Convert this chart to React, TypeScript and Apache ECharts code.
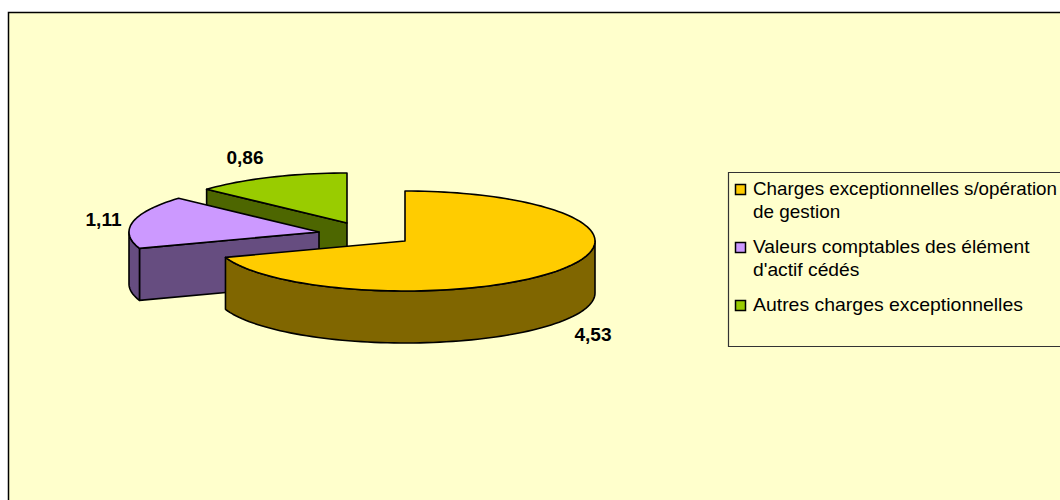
import React, { useEffect, useRef } from "react";
import * as echarts from "echarts";

const categories = ["Charges exceptionnelles s/opération", "Valeurs comptables des élément", "Autres charges exceptionnelles"];
const values = [4.53, 1.11, 0.86];

const legendLines = [
  ["Charges exceptionnelles s/opération", "de gestion"],
  ["Valeurs comptables des élément", "d'actif cédés"],
  ["Autres charges exceptionnelles"],
];
const legendStretch = [[1.045, 1.05], [1.065, 1.07], [1.08]];
const topColors = ["#FFCC00", "#CC99FF", "#99CC00"];
const sideColors = ["#806600", "#664D80", "#4D6600"];

// layout, separate from the data
const apexes = [[405, 241], [319, 232], [347, 223]];
const labelPos = [[593, 335], [103.5, 220], [245, 158]];
const RX = 190, RY = 50, DEPTH = 52;
const total = values.reduce((a, b) => a + b, 0);
const FONT = "'Liberation Sans', Arial, sans-serif";
const fmt = (v: number) => v.toFixed(2).replace(".", ",");

function point(i: number, deg: number, dy = 0) {
  const r = (deg * Math.PI) / 180;
  return [apexes[i][0] + RX * Math.sin(r), apexes[i][1] - RY * Math.cos(r) + dy];
}
function arc(i: number, a: number, b: number, dy = 0) {
  const n = Math.max(2, Math.ceil(Math.abs(b - a) / 2));
  const pts: number[][] = [];
  for (let k = 0; k <= n; k++) pts.push(point(i, a + ((b - a) * k) / n, dy));
  return pts;
}
const edge = { stroke: "#000", lineWidth: 1.6, lineJoin: "round" as const };

function renderItem(params: any, api: any) {
  const i = api.value(0);
  const before = values.slice(0, i).reduce((a, b) => a + b, 0);
  const a0 = (before / total) * 360;
  const a1 = ((before + api.value(1)) / total) * 360;
  const [ax, ay] = apexes[i];
  const children: any[] = [];
  const side = { ...edge, fill: sideColors[i] };
  // flat cut face on the starting radius, when it faces the viewer
  if (a0 > 90) {
    const p = point(i, a0);
    children.push({
      type: "polygon",
      shape: { points: [[ax, ay], p, [p[0], p[1] + DEPTH], [ax, ay + DEPTH]] },
      style: side,
    });
  }
  // curved rim: only the part in front (90 to 270 degrees)
  const f0 = Math.max(a0, 90), f1 = Math.min(a1, 270);
  if (f1 > f0) {
    children.push({
      type: "polygon",
      shape: { points: [...arc(i, f0, f1), ...arc(i, f1, f0, DEPTH)] },
      style: side,
    });
  }
  // top face
  children.push({
    type: "polygon",
    shape: { points: [[ax, ay], ...arc(i, a0, a1)] },
    style: { ...edge, fill: topColors[i] },
  });
  children.push({
    type: "text",
    x: labelPos[i][0],
    y: labelPos[i][1],
    scaleX: 1.06,
    style: { text: fmt(api.value(1)), font: `bold 18px ${FONT}`, fill: "#000", align: "center", verticalAlign: "middle" },
  });
  return { type: "group", children };
}

const legendTop = [189, 247, 305];
const LINE = 23;

export default function App() {
  const ref = useRef<HTMLDivElement>(null);
  useEffect(() => {
    const chart = echarts.init(ref.current!, undefined, { renderer: "svg" });
    const legendEls: any[] = [
      { type: "rect", shape: { x: 8.5, y: 12.5, width: 1100, height: 520 }, style: { fill: "#FFFFCC", stroke: "#000", lineWidth: 1.5 }, z: 0 },
      { type: "rect", shape: { x: 728.5, y: 172.5, width: 400, height: 174 }, style: { fill: "#FFFFCC", stroke: "#333", lineWidth: 1.2 }, z: 1 },
    ];
    legendLines.forEach((lines, i) => {
      legendEls.push({
        type: "rect",
        shape: { x: 735.5, y: legendTop[i] - 4.5, width: 10, height: 10 },
        style: { fill: topColors[i], stroke: "#000", lineWidth: 1.5 },
        z: 2,
      });
      lines.forEach((t, k) => {
        legendEls.push({
          type: "text",
          x: 753,
          y: legendTop[i] + k * LINE,
          scaleX: legendStretch[i][k],
          style: { text: t, font: `18px ${FONT}`, fill: "#000", verticalAlign: "middle" },
          z: 2,
        });
      });
    });
    chart.setOption({
      animation: false,
      backgroundColor: "#fff",
      graphic: legendEls,
      series: [2, 1, 0].map((i) => ({
        type: "custom",
        name: categories[i],
        coordinateSystem: "none",
        renderItem,
        z: 3,
        data: [[i, values[i]]],
      })),
    });
    return () => chart.dispose();
  }, []);
  return <div ref={ref} style={{ position: "fixed", left: 0, top: 0, width: 1060, height: 500 }} />;
}
